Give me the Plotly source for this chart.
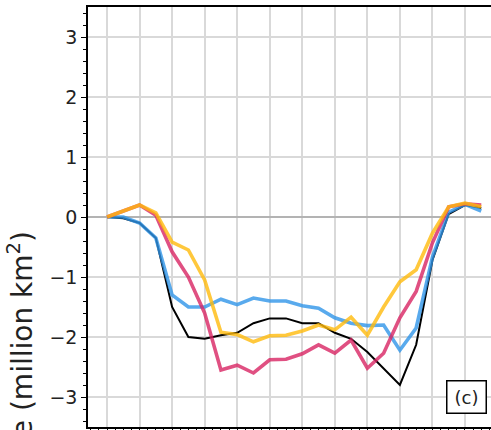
import plotly.graph_objects as go

# ---- data ----
step = list(range(24))
obs = [0.0, -0.02, -0.1, -0.35, -1.5, -2.0, -2.03, -1.97, -1.93, -1.77, -1.69, -1.69,
       -1.77, -1.77, -1.93, -2.03, -2.25, -2.52, -2.8, -2.13, -0.72, 0.05, 0.2, 0.15]
blue = [0.0, 0.0, -0.1, -0.35, -1.3, -1.5, -1.5, -1.37, -1.46, -1.35, -1.4, -1.4,
        -1.48, -1.52, -1.68, -1.77, -1.81, -1.8, -2.22, -1.85, -0.67, 0.08, 0.21, 0.1]
pink = [0.0, 0.1, 0.2, 0.03, -0.58, -1.0, -1.6, -2.55, -2.47, -2.6, -2.38, -2.37,
        -2.28, -2.13, -2.27, -2.05, -2.52, -2.27, -1.68, -1.24, -0.43, 0.17, 0.22, 0.2]
yellow = [0.0, 0.1, 0.2, 0.07, -0.42, -0.55, -1.05, -1.92, -1.96, -2.08, -1.98, -1.97,
          -1.9, -1.8, -1.88, -1.67, -1.97, -1.5, -1.08, -0.88, -0.27, 0.17, 0.23, 0.17]
y_ticks = [-3, -2, -1, 0, 1, 2, 3]
panel_label = "(c)"
y_title = "Sea ice extent change (million km<sup>2</sup>)"

W, H = 491, 430
L, R, T, B = 88, 0, 7, 3
pw, ph = W - L - R, H - T - B


def px_x(p):
    return (p - L) / pw


def px_y(p):
    return (H - B - p) / ph


fig = go.Figure()
fig.add_trace(go.Scatter(x=step, y=obs, mode="lines",
                         line=dict(color="black", width=2), name="obs"))
fig.add_trace(go.Scatter(x=step, y=blue, mode="lines",
                         line=dict(color="rgba(47,149,232,0.8)", width=3.6), name="blue"))
fig.add_trace(go.Scatter(x=step, y=pink, mode="lines",
                         line=dict(color="rgba(216,36,99,0.8)", width=3.6), name="pink"))
fig.add_trace(go.Scatter(x=step, y=yellow, mode="lines",
                         line=dict(color="rgba(255,186,11,0.8)", width=3.6), name="yellow"))

fig.update_layout(
    width=W, height=H,
    margin=dict(l=L, r=R, t=T, b=B, autoexpand=False),
    paper_bgcolor="white", plot_bgcolor="white",
    showlegend=False,
    font=dict(family="DejaVu Sans", size=19, color="#222222"),
)
fig.update_xaxes(
    range=[-1.17, 23.6], tick0=0, dtick=2,
    showgrid=True, gridcolor="#d9d9d9", gridwidth=1.5,
    showline=True, linecolor="black", linewidth=1.5, mirror=True,
    ticks="outside", ticklen=5, tickwidth=1.2, tickcolor="black",
    showticklabels=False, zeroline=False,
    minor=dict(dtick=0.5, tick0=0, ticks="outside", ticklen=3, tickwidth=1, tickcolor="black",
               showgrid=False),
)
fig.update_yaxes(
    range=[-3.5, 3.5], tickvals=y_ticks,
    showgrid=True, gridcolor="#d9d9d9", gridwidth=1.5,
    showline=True, linecolor="black", linewidth=1.5,
    ticks="outside", ticklen=5, tickwidth=1.2, tickcolor="black",
    zeroline=True, zerolinecolor="#b3b3b3", zerolinewidth=2,
    minor=dict(dtick=0.2, tick0=0, ticks="outside", ticklen=3, tickwidth=1, tickcolor="black",
               showgrid=False),
)

fig.add_annotation(
    xref="paper", yref="paper", x=px_x(21), y=px_y(230),
    xanchor="center", yanchor="top", textangle=-90,
    text=y_title, showarrow=False,
    font=dict(family="DejaVu Sans", size=28, color="#222222"),
)
fig.add_annotation(
    xref="paper", yref="paper", x=px_x(466.5), y=px_y(397),
    xanchor="center", yanchor="middle",
    text=panel_label, showarrow=False,
    font=dict(family="DejaVu Sans", size=18, color="#222222"),
    bordercolor="black", borderwidth=1.5, borderpad=1,
    bgcolor="white", width=36, height=29,
)

fig.write_html(
    "out.html",
    config={"displayModeBar": False},
    post_script="document.body.style.margin='0';document.body.style.overflow='hidden';",
)
